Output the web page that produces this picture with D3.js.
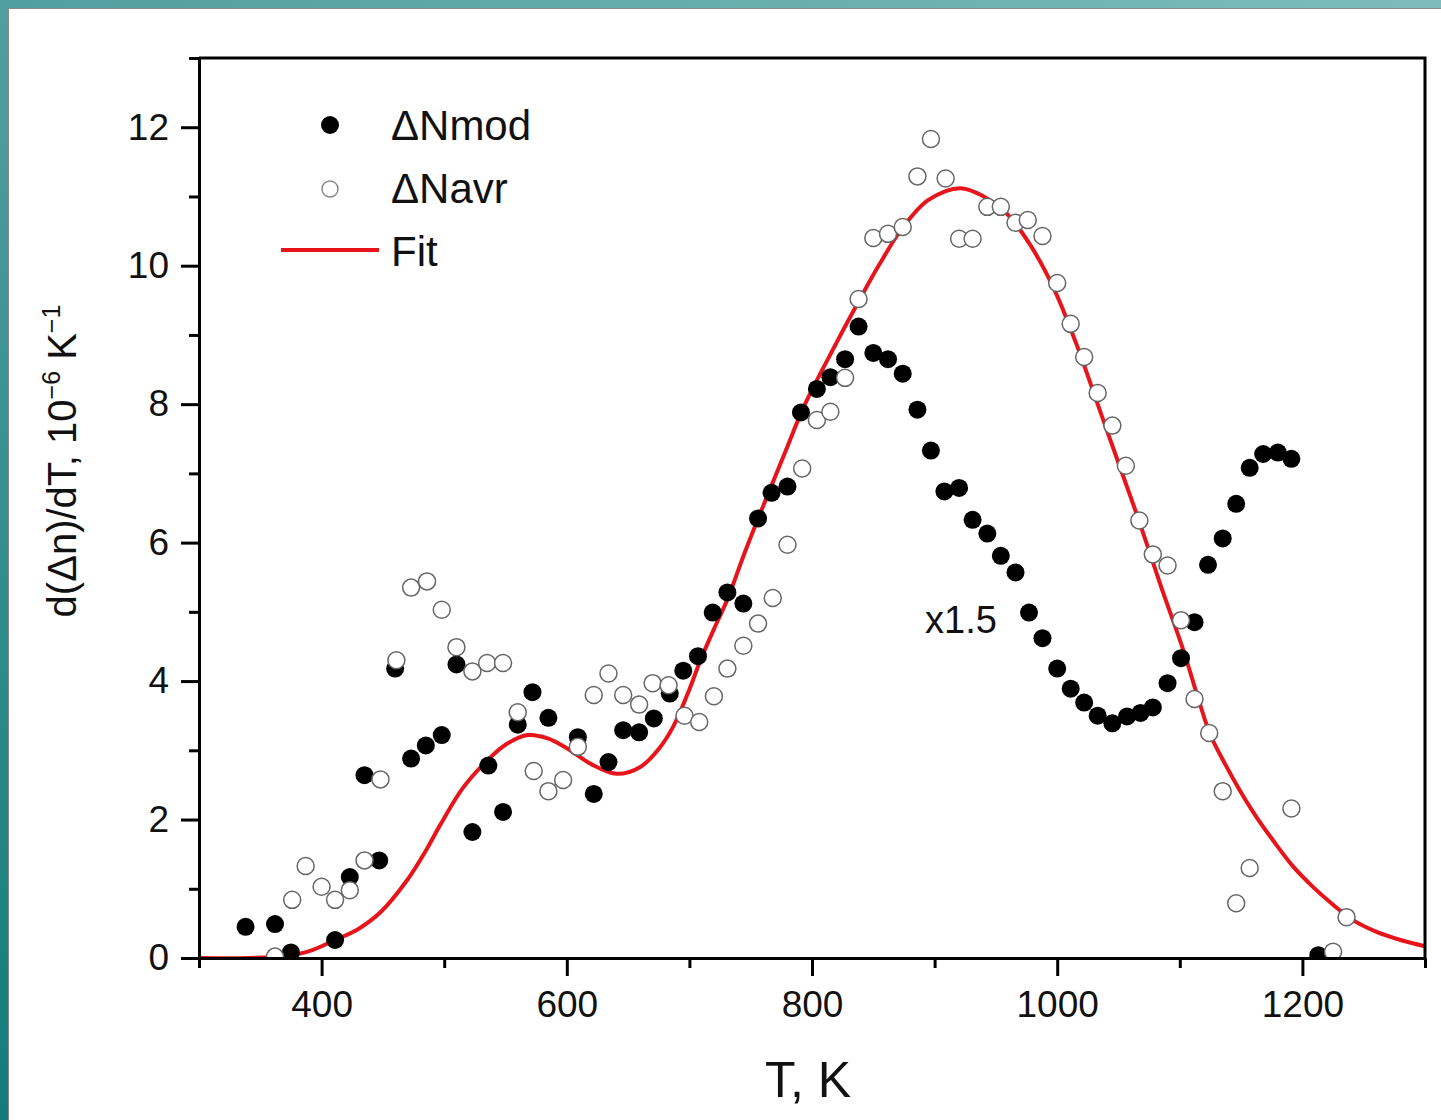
<!DOCTYPE html>
<html>
<head>
  <meta charset="UTF-8">
  <title>d(dn)/dT vs T</title>
  <style>
    body { margin: 0; background: #fff; }
    text { font-family: "Liberation Sans", Arial, sans-serif; fill: #111; }
    .axis path, .axis line { stroke: #000; stroke-width: 3px; }
    .axis text { font-size: 37px; font-family: "Liberation Sans", Arial, sans-serif; fill: #111; }
  </style>
</head>
<body>
  <div class="svg-zone"></div>
  <script src="https://cdn.jsdelivr.net/npm/d3@7/dist/d3.min.js"></script>
  <script>
    // ΔNmod (filled)
    var modT = [338, 362, 375, 411, 423, 435, 447, 460, 473, 485, 498, 510, 523, 536, 548, 560, 572, 585,
      609, 622, 634, 646, 659, 671, 684, 695, 707, 719, 731, 744, 756, 767, 780, 791, 804, 815, 827, 838,
      850, 862, 874, 886, 897, 908, 920, 931, 943, 954, 966, 977, 988, 1000, 1011, 1022, 1033, 1045, 1057,
      1068, 1078, 1090, 1101, 1112, 1123, 1135, 1146, 1157, 1168, 1180, 1191, 1213];
    var modV = [0.45, 0.49, 0.08, 0.26, 1.17, 2.64, 1.41, 4.18, 2.88, 3.07, 3.22, 4.24, 1.82, 2.78, 2.11, 3.37, 3.84, 3.47,
      3.19, 2.37, 2.83, 3.29, 3.26, 3.46, 3.82, 4.15, 4.36, 4.99, 5.28, 5.12, 6.35, 6.72, 6.81, 7.88, 8.22, 8.39, 8.65, 9.12,
      8.74, 8.65, 8.44, 7.92, 7.33, 6.74, 6.79, 6.33, 6.13, 5.81, 5.57, 4.99, 4.62, 4.18, 3.89, 3.69, 3.50, 3.39, 3.49,
      3.54, 3.62, 3.97, 4.33, 4.85, 5.68, 6.06, 6.56, 7.08, 7.28, 7.30, 7.21, 0.04];

    // ΔNavr (open)
    var avrT = [362, 376, 387, 400, 411, 423, 435, 448, 461, 473, 486, 498, 510, 523, 535, 548, 560, 573, 585, 597,
      609, 622, 634, 646, 659, 670, 683, 696, 708, 720, 731, 744, 756, 768, 780, 792, 804, 815, 827, 838,
      850, 862, 874, 886, 897, 909, 920, 931, 943, 954, 966, 976, 988, 1000, 1011, 1022, 1033, 1045, 1056,
      1067, 1078, 1090, 1101, 1112, 1124, 1135, 1146, 1157, 1191, 1225, 1236];
    var avrV = [0.02, 0.84, 1.33, 1.03, 0.84, 0.98, 1.41, 2.58, 4.30, 5.35, 5.44, 5.03, 4.49, 4.14, 4.26, 4.26, 3.55, 2.70, 2.41, 2.57,
      3.05, 3.80, 4.11, 3.80, 3.66, 3.97, 3.94, 3.50, 3.41, 3.78, 4.18, 4.51, 4.83, 5.20, 5.97, 7.07, 7.77, 7.89, 8.38, 9.52,
      10.40, 10.46, 10.56, 11.29, 11.83, 11.26, 10.39, 10.39, 10.85, 10.85, 10.62, 10.66, 10.43, 9.75, 9.16, 8.68, 8.16, 7.69, 7.11,
      6.32, 5.83, 5.67, 4.88, 3.74, 3.25, 2.41, 0.79, 1.30, 2.16, 0.09, 0.59];

    // Fit
    var fitT = [300, 340, 370, 390, 411, 430, 448, 470, 485, 497, 515, 535, 550, 568, 585, 600, 620, 641, 660, 675, 687,
      700, 709, 720, 731, 745, 762, 778, 793, 815, 837, 855, 874, 895, 921, 940, 959, 978, 997, 1015, 1035,
      1050, 1068, 1085, 1103, 1115, 1125, 1137, 1149, 1162, 1176, 1192, 1209, 1225, 1241, 1260, 1280, 1300];
    var fitV = [0, 0.0, 0.03, 0.10, 0.26, 0.42, 0.66, 1.13, 1.55, 1.93, 2.45, 2.85, 3.08, 3.22, 3.17, 3.03, 2.80, 2.66, 2.76, 3.02, 3.35,
      3.88, 4.30, 4.75, 5.18, 5.85, 6.61, 7.30, 7.95, 8.72, 9.45, 10.02, 10.55, 10.95, 11.12, 11.00, 10.75, 10.30, 9.68, 8.90, 7.90,
      7.15, 6.25, 5.35, 4.44, 3.75, 3.22, 2.80, 2.42, 2.05, 1.70, 1.33, 1.02, 0.77, 0.55, 0.38, 0.26, 0.17];

    var xMajor = [400, 600, 800, 1000, 1200];
    var xMinor = [300, 500, 700, 900, 1100, 1300];
    var yMajor = [0, 2, 4, 6, 8, 10, 12];
    var yMinor = [1, 3, 5, 7, 9, 11, 13];

    var width = 1441, height = 1120;
    var plotL = 199, plotR = 1425, plotT = 58, plotB = 958;

    var x = d3.scaleLinear().domain([300, 1300]).range([plotL, plotR]);
    var y = d3.scaleLinear().domain([0, 13]).range([plotB, plotT]);

    var svg = d3.select(".svg-zone").append("svg")
      .attr("width", width)
      .attr("height", height);

    // teal frame behind the white panel
    var defs = svg.append("defs");
    var grad = defs.append("linearGradient").attr("id", "teal")
      .attr("x1", "0%").attr("y1", "100%").attr("x2", "100%").attr("y2", "0%");
    grad.append("stop").attr("offset", "0%").attr("stop-color", "#127c7a");
    grad.append("stop").attr("offset", "45%").attr("stop-color", "#4c9c9b");
    grad.append("stop").attr("offset", "100%").attr("stop-color", "#7cbdbc");
    defs.append("clipPath").attr("id", "plot")
      .append("rect").attr("x", plotL).attr("y", plotT)
      .attr("width", plotR - plotL).attr("height", plotB - plotT);

    svg.append("rect").attr("width", width).attr("height", height).attr("fill", "url(#teal)");
    svg.append("rect").attr("x", 8.5).attr("y", 8.5).attr("width", width).attr("height", height)
      .attr("fill", "#fff").attr("stroke", "#8a8a8a").attr("stroke-width", 1);

    // fit line
    var line = d3.line()
      .x(function (d) { return x(d[0]); })
      .y(function (d) { return y(d[1]); })
      .curve(d3.curveCatmullRom.alpha(0.5));

    var g = svg.append("g").attr("clip-path", "url(#plot)");
    g.append("path")
      .datum(fitT.map(function (t, i) { return [t, fitV[i]]; }))
      .attr("d", line)
      .attr("fill", "none")
      .attr("stroke", "#e8141b")
      .attr("stroke-width", 4);

    g.selectAll(".mod")
      .data(modT.map(function (t, i) { return [t, modV[i]]; }))
      .enter().append("circle")
      .attr("class", "mod")
      .attr("cx", function (d) { return x(d[0]); })
      .attr("cy", function (d) { return y(d[1]); })
      .attr("r", 9)
      .attr("fill", "#000");

    g.selectAll(".avr")
      .data(avrT.map(function (t, i) { return [t, avrV[i]]; }))
      .enter().append("circle")
      .attr("class", "avr")
      .attr("cx", function (d) { return x(d[0]); })
      .attr("cy", function (d) { return y(d[1]); })
      .attr("r", 8.5)
      .attr("fill", "#fff")
      .attr("stroke", "#666")
      .attr("stroke-width", 1.5);

    // axes
    svg.append("g").attr("class", "axis")
      .attr("transform", "translate(0," + plotB + ")")
      .call(d3.axisBottom(x).tickValues(xMajor).tickSize(18).tickSizeOuter(0).tickPadding(15)
        .tickFormat(d3.format("d")));
    svg.append("g").attr("class", "axis")
      .attr("transform", "translate(0," + plotB + ")")
      .call(d3.axisBottom(x).tickValues(xMinor).tickSize(10).tickSizeOuter(0).tickFormat(""))
      .select(".domain").remove();

    svg.append("g").attr("class", "axis")
      .attr("transform", "translate(" + plotL + ",0)")
      .call(d3.axisLeft(y).tickValues(yMajor).tickSize(18).tickSizeOuter(0).tickPadding(12)
        .tickFormat(d3.format("d")));
    svg.append("g").attr("class", "axis")
      .attr("transform", "translate(" + plotL + ",0)")
      .call(d3.axisLeft(y).tickValues(yMinor).tickSize(10).tickSizeOuter(0).tickFormat(""))
      .select(".domain").remove();

    // top and right frame
    svg.append("path")
      .attr("d", "M" + plotL + "," + plotT + "H" + plotR + "V" + plotB)
      .attr("fill", "none").attr("stroke", "#000").attr("stroke-width", 3);

    // axis titles
    svg.append("text")
      .attr("x", (plotL + plotR) / 2 - 4).attr("y", 1097)
      .attr("text-anchor", "middle")
      .style("font-size", "50px")
      .text("T, K");

    var yl = svg.append("text")
      .attr("transform", "translate(76,461) rotate(-90)")
      .attr("text-anchor", "middle")
      .style("font-size", "40px");
    yl.append("tspan").text("d(\u0394n)/dT, 10");
    yl.append("tspan").attr("dy", -16).style("font-size", "25px").text("\u22126");
    yl.append("tspan").attr("dy", 16).text(" K");
    yl.append("tspan").attr("dy", -16).style("font-size", "25px").text("\u22121");

    // legend
    var legend = svg.append("g");
    legend.append("circle").attr("cx", 330).attr("cy", 125).attr("r", 9).attr("fill", "#000");
    legend.append("circle").attr("cx", 330).attr("cy", 189).attr("r", 8)
      .attr("fill", "#fff").attr("stroke", "#888").attr("stroke-width", 1.5);
    legend.append("line").attr("x1", 281).attr("x2", 379).attr("y1", 250).attr("y2", 250)
      .attr("stroke", "#e8141b").attr("stroke-width", 4);
    legend.selectAll("text")
      .data(["\u0394Nmod", "\u0394Navr", "Fit"])
      .enter().append("text")
      .attr("x", 391)
      .attr("y", function (d, i) { return 140 + i * 63; })
      .style("font-size", "42px")
      .text(function (d) { return d; });

    svg.append("text")
      .attr("x", 925).attr("y", 633)
      .style("font-size", "38px")
      .text("x1.5");
  </script>
</body>
</html>
